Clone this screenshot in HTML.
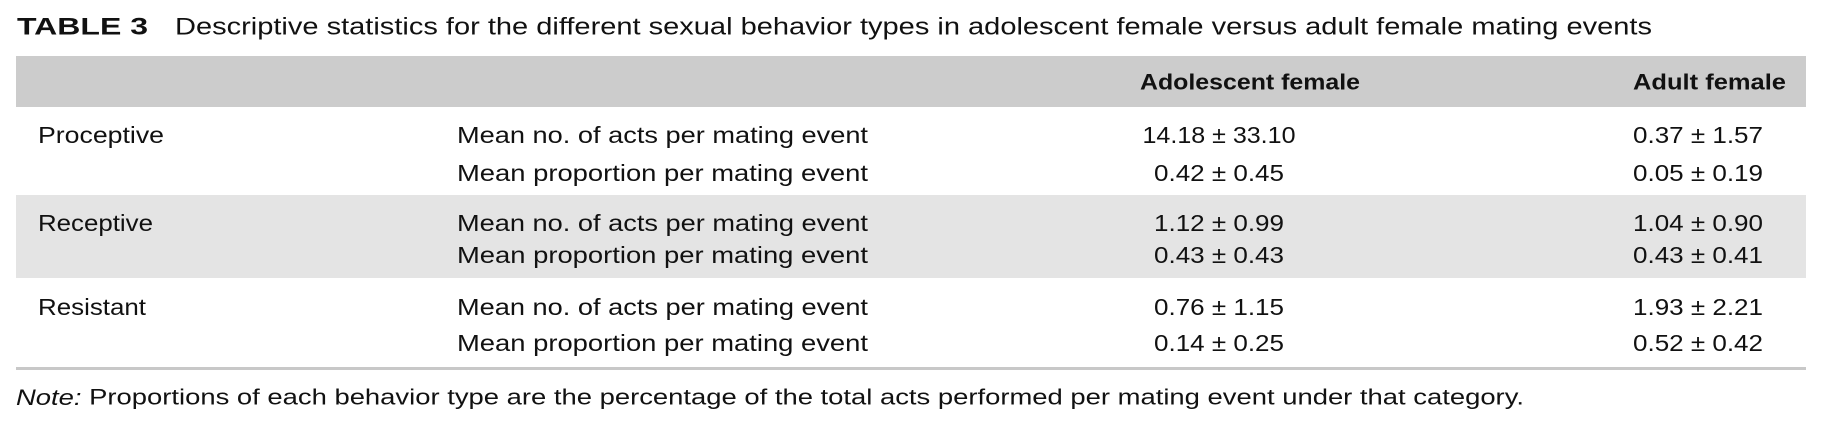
<!DOCTYPE html>
<html><head><meta charset="utf-8"><style>
html,body{margin:0;padding:0;background:#fff;}
svg{display:block;}
text{font-family:"Liberation Sans",sans-serif;fill:#111;dominant-baseline:central;}
</style></head><body>
<svg width="1826" height="428" viewBox="0 0 1826 428">
<g>
<text x="17" y="27" font-size="24" font-weight="bold" textLength="131" lengthAdjust="spacingAndGlyphs">TABLE 3</text>
<text x="175" y="27" font-size="24" textLength="1477" lengthAdjust="spacingAndGlyphs">Descriptive statistics for the different sexual behavior types in adolescent female versus adult female mating events</text>
</g>
<rect x="16" y="56" width="1790" height="51" fill="#cccccc"/>
<text x="1140" y="82" font-size="22" font-weight="bold" textLength="220" lengthAdjust="spacingAndGlyphs">Adolescent female</text>
<text x="1633" y="82" font-size="22" font-weight="bold" textLength="153" lengthAdjust="spacingAndGlyphs">Adult female</text>
<rect x="16" y="195" width="1790" height="83" fill="#e4e4e4"/>
<rect x="16" y="367" width="1790" height="3" fill="#c8c8c8"/>
<g id="rows"></g>
<text x="16" y="397" font-size="22" textLength="1508" lengthAdjust="spacingAndGlyphs"><tspan font-style="italic">Note:</tspan> Proportions of each behavior type are the percentage of the total acts performed per mating event under that category.</text>
</svg>
<script>
const categories = ["Proceptive","Receptive","Resistant"];
const measures = ["Mean no. of acts per mating event","Mean proportion per mating event"];
const adolescent = [["14.18 ± 33.10","0.42 ± 0.45"],["1.12 ± 0.99","0.43 ± 0.43"],["0.76 ± 1.15","0.14 ± 0.25"]];
const adult = [["0.37 ± 1.57","0.05 ± 0.19"],["1.04 ± 0.90","0.43 ± 0.41"],["1.93 ± 2.21","0.52 ± 0.42"]];
const NS="http://www.w3.org/2000/svg";
const g=document.getElementById('rows');
const lineY=[[135,173],[223,255],[307,343]];
const catW=[126,115,108];
function t(x,y,s,len,anchor){const e=document.createElementNS(NS,'text');e.setAttribute('x',x);e.setAttribute('y',y);e.setAttribute('font-size','23');if(len){e.setAttribute('textLength',len);e.setAttribute('lengthAdjust','spacingAndGlyphs');}if(anchor)e.setAttribute('text-anchor',anchor);e.textContent=s;g.appendChild(e);return e;}
function vw(s){return Math.round(s.length*11.8);}
categories.forEach((c,i)=>{
  const cl=t(38,lineY[i][0],c,catW[i]);
  
  
  measures.forEach((m,j)=>{
    const y=lineY[i][j];
    const ml=t(457,y,m,411);
    
    
    const a=t(1219,y,adolescent[i][j],vw(adolescent[i][j]),'middle');
    
    
    const b=t(1633,y,adult[i][j],vw(adult[i][j]));
    
    
  });
});
</script>
</body></html>
